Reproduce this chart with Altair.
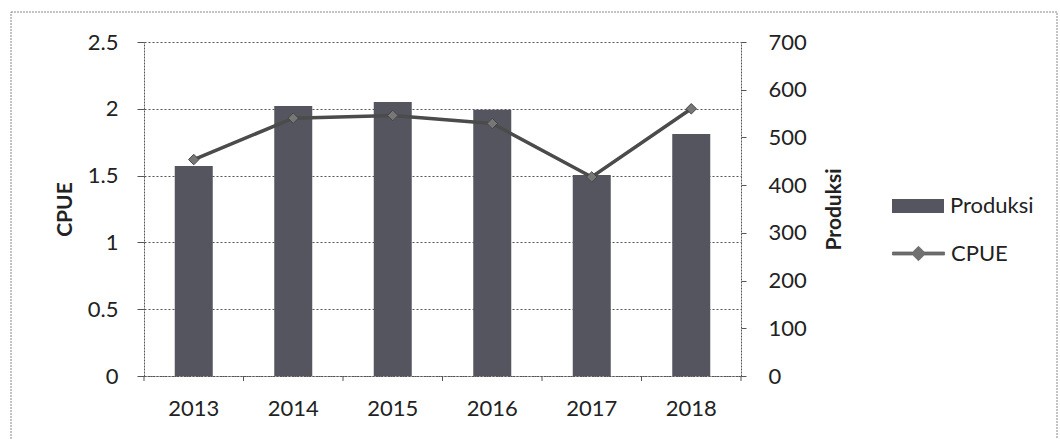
import altair as alt
import pandas as pd

years = ["2013", "2014", "2015", "2016", "2017", "2018"]
produksi = [440, 566, 574, 558, 421, 507]
cpue = [1.62, 1.93, 1.95, 1.89, 1.49, 2.00]
cpue_ticks = [0, 0.5, 1, 1.5, 2, 2.5]
produksi_ticks = [0, 100, 200, 300, 400, 500, 600, 700]

df = pd.DataFrame({"Tahun": years, "Produksi": produksi, "CPUE": cpue})

FONT = "Lato"
TXT = "#222222"
AX = "#555555"
FS = 22

xscale = alt.Scale(domain=years, paddingInner=0, paddingOuter=0)
x_axis = alt.Axis(labelAngle=0, ticks=False, labelPadding=22, domain=True,
                  domainColor=AX, domainDash=[2, 1], grid=False,
                  labelFontSize=FS, labelFont=FONT, labelColor=TXT)
X = alt.X("Tahun:N", scale=xscale, title=None, axis=x_axis)

bars = alt.Chart(df).mark_bar(size=38).encode(
    x=X,
    y=alt.Y("Produksi:Q", scale=alt.Scale(domain=[0, 700], nice=False),
            axis=alt.Axis(orient="right", values=produksi_ticks, grid=False,
                          tickSize=5, tickColor=AX, domainColor=AX, domainDash=[2, 1],
                          labelPadding=22, labelFontSize=FS, labelFont=FONT, labelColor=TXT,
                          title="Produksi", titleFontSize=21, titleFont=FONT,
                          titleFontWeight="bold", titleColor=TXT, titleAngle=270,
                          titlePadding=38)),
    fill=alt.Fill("b:N", scale=alt.Scale(domain=["Produksi"], range=["#55555f"]),
                  legend=alt.Legend(title=None, orient="none", legendX=748, legendY=138,
                                    symbolType="M-1,-0.27H1V0.27H-1Z", symbolSize=2704,
                                    symbolStrokeWidth=0, labelFontSize=FS, labelFont=FONT,
                                    labelColor=TXT, labelOffset=6)),
).transform_calculate(b="'Produksi'")

xticks = alt.Chart(df).mark_rule(color=AX, strokeWidth=1).encode(
    x=alt.X("Tahun:N", scale=xscale, bandPosition=0, title=None, axis=x_axis),
    y=alt.value(334), y2=alt.value(339),
)
xtick_end = alt.Chart(df).transform_filter(alt.datum.Tahun == years[-1]).mark_rule(
    color=AX, strokeWidth=1).encode(
    x=alt.X("Tahun:N", scale=xscale, bandPosition=1, title=None, axis=x_axis),
    y=alt.value(334), y2=alt.value(339),
)

line = alt.Chart(df).mark_line(strokeWidth=3.5).encode(
    x=X,
    y=alt.Y("CPUE:Q", scale=alt.Scale(domain=[0, 2.5], nice=False),
            axis=alt.Axis(orient="left", values=cpue_ticks, format="~g", grid=True,
                          gridColor=AX, gridDash=[2, 2], gridWidth=1,
                          tickSize=7, tickColor=AX, domainColor=AX, domainDash=[2, 1],
                          labelPadding=19, labelFontSize=FS, labelFont=FONT, labelColor=TXT,
                          title="CPUE", titleFontSize=21, titleFont=FONT,
                          titleFontWeight="bold", titleColor=TXT, titlePadding=12)),
    stroke=alt.Stroke("c:N", scale=alt.Scale(domain=["CPUE"], range=["#4b4b4b"]),
                      legend=alt.Legend(title=None, orient="none", legendX=748, legendY=185,
                                        symbolType="M-1,-0.06H-0.22L0,-0.28L0.22,-0.06H1V0.06H0.22L0,0.28L-0.22,0.06H-1Z",
                                        symbolSize=2704, symbolFillColor="#707070",
                                        symbolStrokeWidth=0.6, labelFontSize=FS, labelFont=FONT,
                                        labelColor=TXT, labelOffset=6)),
).transform_calculate(c="'CPUE'")

points = alt.Chart(df).mark_point(shape="diamond", filled=True, size=110,
                                  fill="#777777", stroke="#444444", strokeWidth=1,
                                  opacity=1).encode(
    x=X,
    y=alt.Y("CPUE:Q", scale=alt.Scale(domain=[0, 2.5], nice=False), axis=None),
)

border = alt.Chart(pd.DataFrame({"a": [0]})).mark_rect(
    fill=None, fillOpacity=0, stroke="#888888", strokeDash=[2, 1], strokeWidth=1).encode(
    x=alt.value(-133), x2=alt.value(913), y=alt.value(-30), y2=alt.value(420),
)

chart = alt.layer(border, bars, xticks, xtick_end, line, points).resolve_scale(
    y="independent", fill="independent", stroke="independent"
).properties(
    width=597, height=334,
    autosize=alt.AutoSizeParams(type="none"),
    padding={"left": 144, "top": 42, "right": 319, "bottom": 63},
    background="white",
).configure_view(stroke=None)

chart.save("out.html", embed_options={"renderer": "svg", "actions": False})
